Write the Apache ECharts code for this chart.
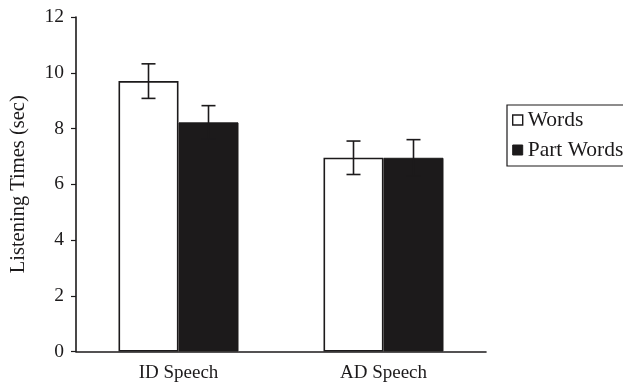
<!DOCTYPE html>
<html>
<head>
<meta charset="utf-8">
<script src="https://cdn.jsdelivr.net/npm/echarts@6/dist/echarts.min.js"></script>
<style>html,body{margin:0;padding:0;background:#fff;}#c{width:623px;height:389px;}</style>
</head>
<body>
<div id="c"></div>
<script>
const categories = ['ID Speech', 'AD Speech'];
const seriesNames = ['Words', 'Part Words'];
const wordsMeans = [9.7, 6.95];
const wordsErr = [0.62, 0.6];
const partWordsMeans = [8.22, 6.95];
const partWordsErr = [0.6, 0.65];
const yTicks = { min: 0, max: 12, interval: 2 };

const FONT = '"Liberation Serif", "DejaVu Serif", serif';
const BAR_W = 60;
const INK = '#1c1a1b';

const chart = echarts.init(document.getElementById('c'), null, { renderer: 'canvas' });

function errSeries(means, errs, offset) {
  return {
    type: 'custom',
    z: 10,
    silent: true,
    data: categories.map((c, i) => [i, means[i] - errs[i], means[i] + errs[i]]),
    renderItem: function (params, api) {
      const lo = api.coord([api.value(0), api.value(1)]);
      const hi = api.coord([api.value(0), api.value(2)]);
      const x = lo[0] + offset;
      const cap = 7;
      const style = { stroke: INK, lineWidth: 1.6, fill: null };
      return {
        type: 'group',
        children: [
          { type: 'line', shape: { x1: x, y1: lo[1], x2: x, y2: hi[1] }, style: style },
          { type: 'line', shape: { x1: x - cap, y1: hi[1], x2: x + cap, y2: hi[1] }, style: style },
          { type: 'line', shape: { x1: x - cap, y1: lo[1], x2: x + cap, y2: lo[1] }, style: style }
        ]
      };
    }
  };
}

chart.setOption({
  animation: false,
  backgroundColor: '#fff',
  grid: { left: 74, right: 137, top: 17, bottom: 37.5 },
  legend: {
    orient: 'vertical',
    left: 507,
    top: 105,
    data: [
      { name: seriesNames[0], itemStyle: { color: '#fff', borderColor: INK, borderWidth: 1.4 } },
      { name: seriesNames[1], itemStyle: { color: INK, borderColor: INK, borderWidth: 1 } }
    ],
    borderColor: INK,
    borderWidth: 1.2,
    padding: [4, 20, 5, 5],
    itemWidth: 10,
    itemHeight: 10,
    itemGap: 8,
    icon: 'rect',
    textStyle: { fontFamily: FONT, fontSize: 21.5, lineHeight: 22, color: INK }
  },
  xAxis: {
    type: 'category',
    data: categories,
    axisLine: { show: true, lineStyle: { color: INK, width: 1.6 } },
    axisTick: { show: false },
    axisLabel: { fontFamily: FONT, fontSize: 19, color: INK, margin: 12 }
  },
  yAxis: {
    type: 'value',
    min: yTicks.min,
    max: yTicks.max,
    interval: yTicks.interval,
    name: 'Listening Times (sec)',
    nameLocation: 'middle',
    nameGap: 47,
    nameTextStyle: { fontFamily: FONT, fontSize: 20.5, color: INK },
    axisLine: { show: true, lineStyle: { color: INK, width: 1.6 } },
    axisTick: { show: true, length: 5, lineStyle: { color: INK, width: 1.2 } },
    axisLabel: { fontFamily: FONT, fontSize: 19.5, color: INK, margin: 12 },
    splitLine: { show: false }
  },
  series: [
    {
      name: seriesNames[0],
      type: 'bar',
      data: wordsMeans,
      barWidth: BAR_W,
      barGap: '0%',
      itemStyle: { color: '#fff', borderColor: INK, borderWidth: 1.6 }
    },
    {
      name: seriesNames[1],
      type: 'bar',
      data: partWordsMeans,
      barWidth: BAR_W,
      barGap: '0%',
      itemStyle: { color: INK, borderColor: INK, borderWidth: 1 }
    },
    errSeries(wordsMeans, wordsErr, -BAR_W / 2),
    errSeries(partWordsMeans, partWordsErr, BAR_W / 2)
  ]
});
</script>
</body>
</html>
